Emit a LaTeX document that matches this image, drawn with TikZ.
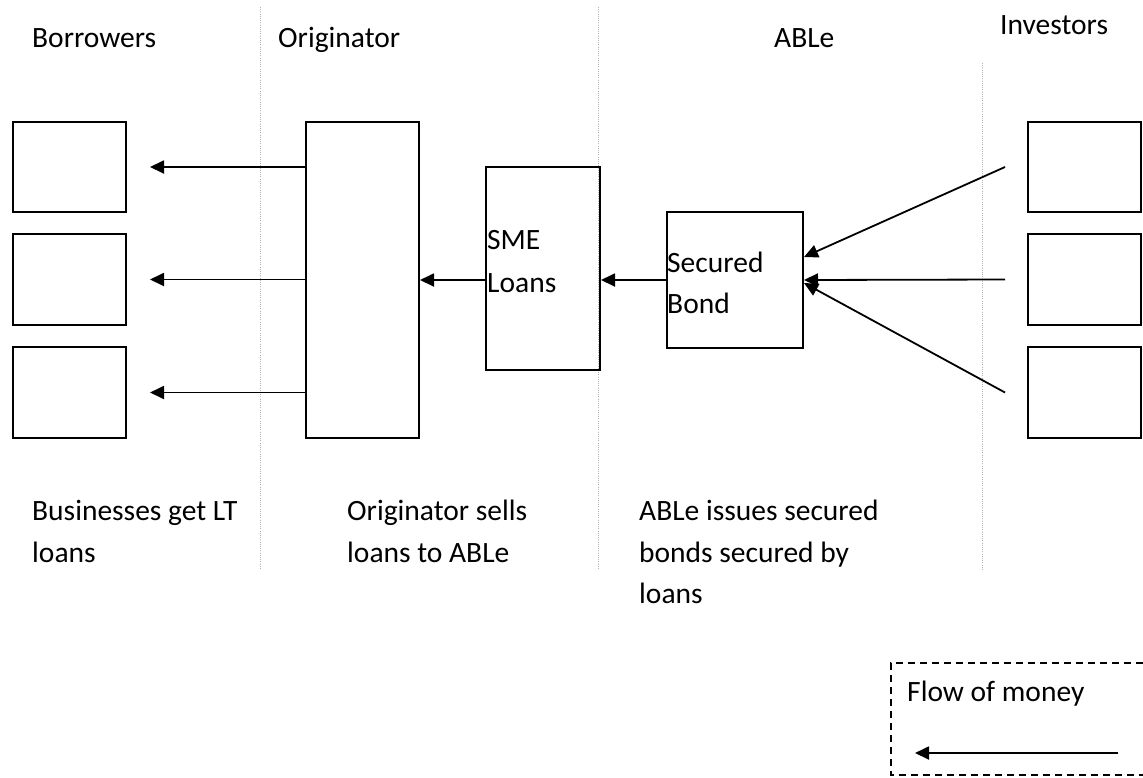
\documentclass[tikz,border=0pt]{standalone}
\usepackage{fontspec}
\setmainfont{Carlito}
\usetikzlibrary{arrows.meta}
\tikzset{
  box/.style={draw, line width=2pt, rectangle, inner sep=0pt, anchor=north west},
  lbl/.style={anchor=base west, inner sep=0pt, font=\fontsize{29.5}{42}\selectfont},
  arr/.style={line width=1.8pt, -{Triangle[length=14pt,width=13pt]}},
  sep/.style={draw=black!30, line width=1pt, dash pattern=on 1pt off 1.2pt},
  legendframe/.style={line width=1.6pt, dash pattern=on 7pt off 5pt}
}
\begin{document}
\begin{tikzpicture}[x=1pt,y=-1pt]
\useasboundingbox[fill=white] (0,0) rectangle (1143,777);
% separators
\coordinate (s1t) at (260,7);   \coordinate (s1b) at (260,570);
\coordinate (s2t) at (598,7);   \coordinate (s2b) at (598,570);
\coordinate (s3t) at (982,63);  \coordinate (s3b) at (982,570);
\draw[sep] (s1t) -- (s1b);
\draw[sep] (s2t) -- (s2b);
\draw[sep] (s3t) -- (s3b);
% headers
\node[lbl] (hb) at (32,47) {Borrowers};
\node[lbl] (ho) at (278,47) {Originator};
\node[lbl] (ha) at (774,47) {ABLe};
\node[lbl] (hi) at (1000,34) {Investors};
% borrower boxes
\node[box, minimum width=113pt, minimum height=90pt] (b1) at (12,121) {};
\node[box, minimum width=113pt, minimum height=91pt] (b2) at (12,233) {};
\node[box, minimum width=113pt, minimum height=91pt] (b3) at (12,346) {};
% originator
\node[box, minimum width=113pt, minimum height=316pt] (orig) at (305,121) {};
% SME loans
\node[box, minimum width=114pt, minimum height=203pt] (sme) at (485,166) {};
\node[lbl] (smet1) at (487,249) {SME};
\node[lbl] (smet2) at (487,292) {Loans};
% secured bond
\node[box, minimum width=136pt, minimum height=136pt] (bond) at (666,211) {};
\node[lbl] (bondt1) at (667,272) {Secured};
\node[lbl] (bondt2) at (667,313) {Bond};
% investors
\node[box, minimum width=113pt, minimum height=90pt] (i1) at (1027,121) {};
\node[box, minimum width=113pt, minimum height=91pt] (i2) at (1027,233) {};
\node[box, minimum width=113pt, minimum height=91pt] (i3) at (1027,346) {};
% arrows originator -> borrowers
\draw[arr, shorten >=23pt] (orig.west |- b1.east) -- (b1.east);
\draw[arr, shorten >=23pt] (orig.west |- b2.east) -- (b2.east);
\draw[arr, shorten >=23pt] (orig.west |- b3.east) -- (b3.east);
% SME -> originator
\draw[arr] (sme.west |- bond.west) -- (orig.east |- bond.west);
% bond -> SME
\draw[arr] (bond.west) -- (sme.east |- bond.west);
% investors -> bond
\draw[arr] ([xshift=-22pt]i1.west) -- ([yshift=23pt]bond.east);
\draw[arr] ([xshift=-22pt]i2.west) -- (bond.east);
\draw[arr] ([xshift=-22pt]i3.west) -- ([yshift=-3pt]bond.east);
% bottom texts
\node[lbl] (bt1) at (32,520) {Businesses get LT};
\node[lbl] (bt2) at (32,562) {loans};
\node[lbl] (ot1) at (347,520) {Originator sells};
\node[lbl] (ot2) at (347,562) {loans to ABLe};
\node[lbl] (at1) at (639,520) {ABLe issues secured};
\node[lbl] (at2) at (639,562) {bonds secured by};
\node[lbl] (at3) at (639,603) {loans};
% legend
\coordinate (lg1) at (1143,663);
\coordinate (lg2) at (891,663);
\coordinate (lg3) at (891,775);
\coordinate (lg4) at (1143,775);
\draw[legendframe] (lg1) -- (lg2) -- (lg3) -- (lg4);
\node[lbl] (lgt) at (907,701) {Flow of money};
\coordinate (la1) at (1118,753);
\coordinate (la2) at (915,753);
\draw[arr] (la1) -- (la2);
\end{tikzpicture}
\end{document}
